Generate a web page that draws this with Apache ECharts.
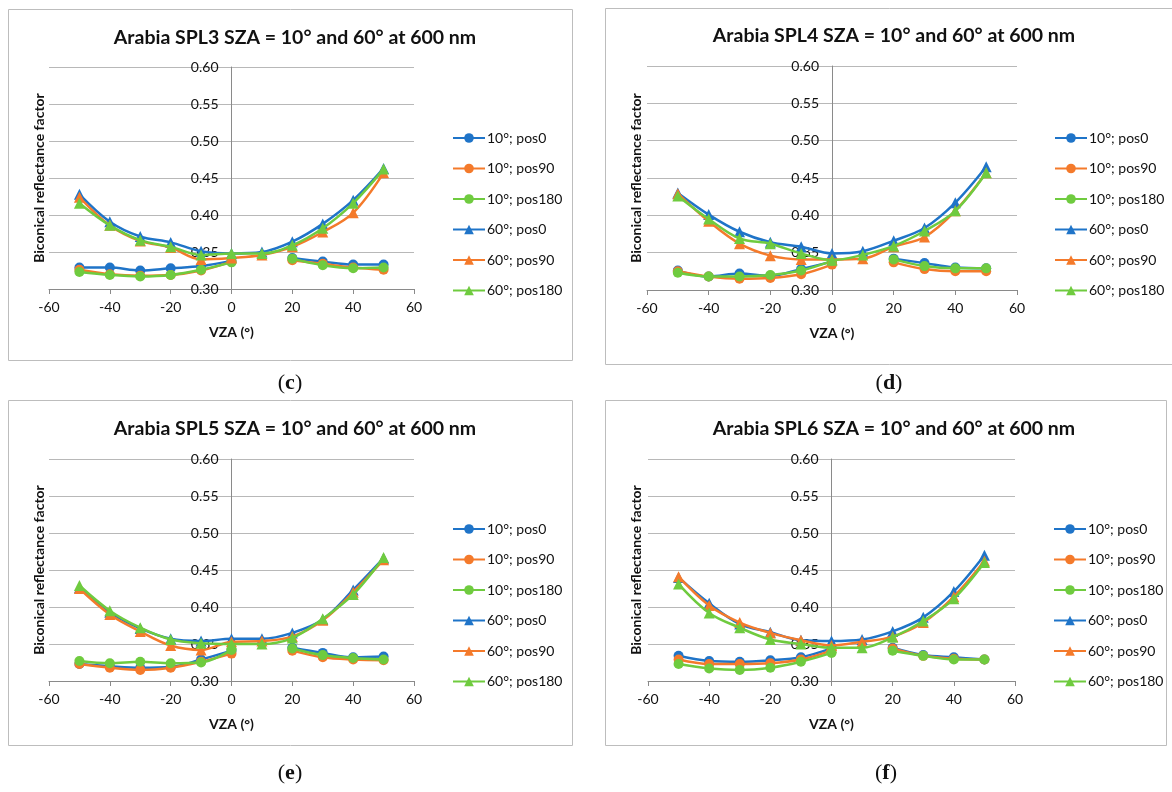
<!DOCTYPE html>
<html><head><meta charset="utf-8">
<script src="https://cdn.jsdelivr.net/npm/echarts@6/dist/echarts.min.js"></script>
<style>html,body{margin:0;padding:0;background:#fff}#c{width:1172px;height:792px}</style>
</head><body><div id="c"></div>
<script>
const vza = [-50,-40,-30,-20,-10,0,10,20,30,40,50];
const seriesNames = ['10°; pos0','10°; pos90','10°; pos180','60°; pos0','60°; pos90','60°; pos180'];
const panelTitles = ['Arabia SPL3 SZA = 10° and 60° at 600 nm','Arabia SPL4 SZA = 10° and 60° at 600 nm','Arabia SPL5 SZA = 10° and 60° at 600 nm','Arabia SPL6 SZA = 10° and 60° at 600 nm'];
const panelLetters = ['c','d','e','f'];

// Panel (c)
const c_10_pos0   = [0.329,0.329,0.325,0.328,0.331,0.338,null,0.342,0.337,0.333,0.333];
const c_10_pos90  = [0.326,0.320,0.318,0.319,0.325,0.337,null,0.339,0.334,0.329,0.326];
const c_10_pos180 = [0.323,0.319,0.317,0.319,0.326,0.336,null,0.341,0.332,0.328,0.329];
const c_60_pos0   = [0.428,0.391,0.371,0.363,0.351,0.348,0.350,0.364,0.388,0.420,0.463];
const c_60_pos90  = [0.424,0.386,0.365,0.356,0.340,0.342,0.346,0.357,0.377,0.403,0.457];
const c_60_pos180 = [0.416,0.386,0.366,0.357,0.346,0.348,0.348,0.359,0.382,0.416,0.462];
// Panel (d)
const d_10_pos0   = [0.326,0.318,0.322,0.319,0.328,0.338,null,0.342,0.336,0.330,0.329];
const d_10_pos90  = [0.325,0.318,0.315,0.316,0.321,0.334,null,0.337,0.328,0.325,0.325];
const d_10_pos180 = [0.323,0.318,0.318,0.320,0.326,0.339,null,0.341,0.332,0.329,0.329];
const d_60_pos0   = [0.430,0.401,0.378,0.364,0.358,0.349,0.352,0.366,0.383,0.417,0.465];
const d_60_pos90  = [0.429,0.392,0.362,0.346,0.341,0.341,0.342,0.358,0.371,0.406,0.457];
const d_60_pos180 = [0.426,0.395,0.369,0.362,0.349,0.340,0.347,0.359,0.379,0.406,0.457];
// Panel (e)
const e_10_pos0   = [0.323,0.320,0.318,0.319,0.329,0.341,null,0.345,0.338,0.332,0.333];
const e_10_pos90  = [0.323,0.318,0.315,0.318,0.326,0.337,null,0.341,0.332,0.329,0.328];
const e_10_pos180 = [0.327,0.324,0.326,0.324,0.325,0.342,null,0.344,0.335,0.331,0.329];
const e_60_pos0   = [0.426,0.393,0.371,0.357,0.354,0.357,0.357,0.365,0.383,0.423,0.466];
const e_60_pos90  = [0.425,0.390,0.367,0.348,0.342,0.353,0.354,0.360,0.382,0.420,0.464];
const e_60_pos180 = [0.429,0.395,0.372,0.356,0.351,0.350,0.350,0.358,0.384,0.417,0.467];
// Panel (f)
const f_10_pos0   = [0.334,0.327,0.326,0.328,0.332,0.344,null,0.345,0.335,0.332,0.329];
const f_10_pos90  = [0.329,0.323,0.323,0.324,0.329,0.341,null,0.344,0.334,0.330,0.329];
const f_10_pos180 = [0.323,0.317,0.315,0.318,0.326,0.338,null,0.341,0.334,0.329,0.329];
const f_60_pos0   = [0.440,0.405,0.377,0.366,0.355,0.354,0.356,0.367,0.386,0.421,0.470];
const f_60_pos90  = [0.441,0.402,0.379,0.365,0.355,0.348,0.353,0.360,0.379,0.414,0.462];
const f_60_pos180 = [0.431,0.392,0.372,0.356,0.350,0.345,0.345,0.359,0.381,0.411,0.460];

const panelData = [
  [c_10_pos0,c_10_pos90,c_10_pos180,c_60_pos0,c_60_pos90,c_60_pos180],
  [d_10_pos0,d_10_pos90,d_10_pos180,d_60_pos0,d_60_pos90,d_60_pos180],
  [e_10_pos0,e_10_pos90,e_10_pos180,e_60_pos0,e_60_pos90,e_60_pos180],
  [f_10_pos0,f_10_pos90,f_10_pos180,f_60_pos0,f_60_pos90,f_60_pos180]
];

const colors = ['#1F74C8','#F47A2B','#6FCB3F','#1F74C8','#F47A2B','#6FCB3F'];
const symbols = ['circle','circle','circle','triangle','triangle','triangle'];
const FONT = 'Lato';

// layout
const grids = [
  {left:49, top:67, width:365, height:222},
  {left:647, top:66, width:370, height:224},
  {left:49, top:459, width:365, height:222},
  {left:648, top:459, width:367, height:222}
];
const boxes = [
  {x:8, y:9, w:564, h:351},
  {x:605, y:8, w:570, h:356},
  {x:8, y:400, w:564, h:345},
  {x:605, y:400, w:561, h:345}
];
const titlePos = [{x:290,y:23},{x:889,y:21},{x:290,y:414},{x:889,y:414}];
const legendPos = [{left:447,top:126},{left:1049,top:126},{left:447,top:517},{left:1048,top:517}];
const letterPos = [{x:290,y:383},{x:889,y:383},{x:290,y:773},{x:886,y:773}];

const option = {
  animation:false,
  color: colors,
  title: panelTitles.map((t,i)=>({
    text:t, left:titlePos[i].x, top:titlePos[i].y, textAlign:'center',
    textStyle:{fontFamily:FONT,fontWeight:'bold',fontSize:19.5,color:'#111'}
  })),
  legend: legendPos.map(p=>({
    orient:'vertical', left:p.left, top:p.top, itemWidth:32, itemHeight:12, itemGap:16.5,
    data: seriesNames,
    textStyle:{fontFamily:FONT,fontSize:14,color:'#111',padding:[0,0,0,-3]}
  })),
  grid: grids.map(g=>Object.assign({containLabel:false},g)),
  xAxis: grids.map((g,i)=>({
    type:'value', gridIndex:i, min:-60, max:60, interval:20,
    name:'VZA (°)', nameLocation:'middle', nameGap:36,
    nameTextStyle:{fontFamily:FONT,fontWeight:'bold',fontSize:14,color:'#111'},
    axisLine:{show:true,onZero:false,lineStyle:{color:'#8a8a8a',width:1}},
    axisTick:{show:true,length:5,lineStyle:{color:'#8a8a8a'}},
    axisLabel:{fontFamily:FONT,fontSize:14,color:'#111',margin:11},
    splitLine:{show:false}
  })),
  yAxis: grids.map((g,i)=>({
    type:'value', gridIndex:i, min:0.30, max:0.60, interval:0.05,
    position:'left', offset: -(g.width/2),
    axisLine:{show:true,onZero:false,lineStyle:{color:'#8a8a8a',width:1}},
    axisTick:{show:false},
    axisLabel:{fontFamily:FONT,fontSize:14,color:'#111',margin:13,formatter:v=>v.toFixed(2)},
    splitLine:{show:true,lineStyle:{color:'#b8b8b8',width:1}}
  })),
  graphic: [],
  series: []
};

boxes.forEach(b=>{
  option.graphic.push({type:'rect',shape:{x:b.x+0.5,y:b.y+0.5,width:b.w,height:b.h},
    style:{fill:'none',stroke:'#bdbdbd',lineWidth:1},z:-10,silent:true});
});
grids.forEach((g,i)=>{
  const cx = boxes[i].x + 31;
  const cy = g.top + g.height/2;
  option.graphic.push({type:'text',x:cx,y:cy,rotation:Math.PI/2,
    style:{text:'Biconical reflectance factor',fontFamily:FONT,fontWeight:'bold',fontSize:14,fill:'#111',
      textAlign:'center',textVerticalAlign:'middle'},silent:true});
});
letterPos.forEach((p,i)=>{
  option.graphic.push({type:'text',x:p.x,y:p.y,
    style:{text:'{p|(}{b|'+panelLetters[i]+'}{p|)}',
      rich:{p:{fontFamily:'Liberation Serif',fontSize:22,fill:'#111'},b:{fontFamily:'Liberation Serif',fontWeight:'bold',fontSize:22,fill:'#111'}},
      textAlign:'center',textVerticalAlign:'middle'},silent:true});
});

panelData.forEach((arrs,pi)=>{
  arrs.forEach((vals,si)=>{
    option.series.push({
      type:'line', name:seriesNames[si], xAxisIndex:pi, yAxisIndex:pi,
      data: vza.map((x,k)=>[x, vals[k]===null ? '-' : vals[k]]),
      smooth:0.35, connectNulls:false,
      symbol:symbols[si], symbolSize: si<3 ? 10 : 11,
      lineStyle:{width:2.5,color:colors[si]},
      itemStyle:{color:colors[si]},
      z: 2+si
    });
  });
});

const chart = echarts.init(document.getElementById('c'),null,{renderer:'canvas'});
chart.setOption(option);
</script></body></html>
